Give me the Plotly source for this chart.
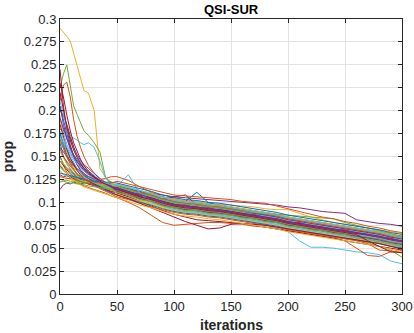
import plotly.graph_objects as go

# values of "prop" are stored in thousandths
SCALE = 1000.0

iterations = [0, 3, 6, 9, 12, 15, 18, 21, 25, 30, 35, 40, 45, 50, 60, 70, 80, 90, 100, 110,
              120, 130, 140, 150, 160, 170, 180, 190, 200, 210, 220, 230, 240, 250, 260, 270, 280, 290, 300]

run01 = [165,150,142,136,131,128,126,124,122,121,119,118,116, 117,113,110,106,101,99,97,96,94,93,91,89,87,86,83,80,78,76,74,72,70,68,66,64,61,59]
run02 = [210,228,231,215,190,172,160,150,140,132,126,122,119, 116,113,108,105,101,98,96,95,93,92,90,88,86,84,82,79,77,75,73,71,69,67,65,63,60,58]
run03 = [290,286,281,276,262,248,235,222,219,200,137,127,122, 118,114,110,107,103,100,98,97,95,94,92,90,88,86,84,81,79,77,75,73,71,69,67,65,62,60]
run04 = [114,119,121,120,122,121,120,121,120,119,118,118,117, 116,114,112,110,108,106,105,104,103,102,101,100,99,98,97,95,94,92,90,89,88,81,79,77,76,74]
run05 = [225,240,250,225,205,196,186,178,173,165,155,127,121, 117,112,108,104,100,96,94,93,91,90,88,86,84,82,80,77,75,73,70,68,66,63,61,58,55,50]
run06 = [190,175,163,155,147,141,136,132,127,123,120,117,114, 112,109,105,101,97,94,92,90,88,86,84,81,78,75,72,68,58,51,51,50,48,46,45,43,36,33]
run07 = [245,205,180,163,150,141,135,130,126,122,120,118,116, 114,110,106,103,100,97,96,94,92,90,89,87,85,83,81,78,76,74,72,70,68,66,64,61,59,56]
run08 = [205,190,172,160,152,146,141,137,133,128,124,121,119, 119,116,111,108,104,101,99,98,97,95,93,92,89,87,85,82,80,79,76,74,72,70,68,66,63,61]
run09 = [150,140,133,128,125,122,120,118,116,114,112,110,107, 105,100,94,86,78,75,76,77,78,78,77,76,74,73,71,69,67,65,63,61,58,50,42,41,46,47]
run10 = [135,130,127,125,124,123,122,121,120,119,118,117,115, 120,117,113,110,106,104,102,101,99,98,97,96,95,93,92,92,88,84,81,78,76,74,72,70,68,66]
run11 = [180,178,183,170,160,152,146,141,137,131,126,121,118, 113,109,105,102,98,95,93,92,90,89,87,85,83,81,79,76,74,72,70,68,66,64,62,60,57,55]
run12 = [125,124,124,123,123,122,122,121,121,120,119,118,116, 112,108,104,101,97,94,92,91,89,88,86,84,82,80,78,75,73,71,69,66,64,62,59,56,53,51]
run13 = [160,150,145,140,135,131,128,126,124,122,120,118,115, 111,107,103,100,96,93,91,90,88,87,85,83,81,79,77,74,72,70,68,66,64,62,60,58,55,53]
run14 = [200,195,185,172,160,150,143,137,132,127,123,120,117, 118,114,110,107,103,106,108,97,95,94,92,90,88,86,84,81,79,77,75,73,71,69,67,65,62,60]
run15 = [140,135,131,128,126,124,123,122,121,119,118,116,114, 114,111,107,104,101,99,101,111,100,96,94,91,88,86,83,80,78,76,74,72,70,68,66,64,61,59]
run16 = [175,165,155,148,142,137,133,130,128,126,125,126,128, 128,124,117,111,106,102,100,99,97,96,94,92,90,88,86,83,81,79,77,75,73,71,69,67,64,62]
run17 = [155,148,142,137,132,128,125,123,121,119,117,115,113, 110,106,102,99,95,92,90,89,87,86,84,82,80,78,76,73,71,69,67,65,63,61,59,57,54,52]
run18 = [130,128,129,127,126,125,124,123,122,121,119,117,115, 114,111,108,105,102,99,97,96,94,93,91,89,87,85,83,80,78,76,74,72,70,68,66,64,61,59]
run19 = [170,160,150,143,138,134,130,128,126,124,122,121,119, 116,112,108,104,100,96,94,92,90,89,87,85,83,81,79,76,74,71,69,66,63,59,56,52,48,40]
run20 = [185,180,176,172,170,168,165,163,165,160,145,126,120, 116,112,108,104,100,97,95,94,92,90,88,86,84,82,80,77,75,73,71,69,67,65,63,61,58,56]
run21 = [145,140,135,131,128,126,124,122,120,118,116,114,112, 110,106,101,96,91,87,84,81,80,79,78,77,75,73,71,69,67,65,63,61,58,56,54,52,50,48]
run22 = [175,162,152,145,140,136,132,129,126,123,121,119,117, 118,115,112,109,106,103,101,100,98,97,95,93,91,89,87,84,82,80,78,76,74,72,70,68,65,63]
run23 = [128,127,126,126,125,124,123,122,121,120,119,118,117, 117,114,111,108,104,101,99,98,96,95,93,91,89,87,85,82,80,78,76,74,72,70,68,66,63,61]
run24 = [195,170,155,146,139,134,130,127,124,121,119,117,115, 109,105,101,98,94,91,89,88,86,85,83,81,79,77,75,72,70,68,66,64,62,60,58,56,53,51]
run25 = [160,155,150,145,140,137,134,131,128,125,122,120,117, 115,111,107,104,100,97,95,94,92,91,89,87,85,83,81,78,76,74,72,70,68,66,64,62,59,57]
run26 = [138,134,131,129,127,125,124,122,121,120,118,116,114, 113,109,105,102,98,95,93,92,90,89,87,85,83,81,79,76,74,72,70,68,66,64,62,60,57,55]
run27 = [210,195,180,168,158,150,144,139,134,129,125,121,118, 117,113,109,106,102,99,97,96,94,93,91,89,87,85,83,80,78,76,74,72,70,68,66,64,61,59]
run28 = [230,215,195,178,165,155,147,140,134,128,124,121,118, 116,112,108,105,101,98,96,95,93,92,90,88,86,84,82,79,77,75,73,71,69,67,65,63,60,58]
run29 = [150,142,137,133,130,127,125,123,121,119,116,113,110, 108,104,100,97,93,90,88,87,85,84,82,80,78,76,74,71,69,67,65,63,61,59,57,55,52,50]
run30 = [168,158,149,142,136,131,127,124,121,118,115,112,109, 106,103,99,95,92,89,87,86,84,83,81,79,77,75,73,70,68,66,64,62,60,58,55,48,47,45]
run31 = [148,142,137,133,129,126,124,123,122,121,120,119,118, 119,116,113,110,106,103,101,100,98,97,95,93,91,89,87,84,82,80,78,76,74,72,70,68,65,63]
run32 = [205,185,170,160,151,144,139,135,131,127,124,121,118, 112,108,104,101,97,94,92,91,89,88,86,84,82,80,78,75,73,71,69,67,65,63,61,59,56,54]
run33 = [145,141,138,135,132,129,127,125,123,121,119,118,117, 118,114,110,107,103,100,98,97,95,94,92,90,89,88,87,86,85,84,83,82,78,75,72,69,66,63]
run34 = [172,165,158,150,143,137,132,128,124,121,119,117,115, 118,130,110,100,96,92,90,89,87,86,84,82,80,78,76,73,71,69,67,65,63,61,59,57,54,52]
run35 = [185,170,158,148,141,135,130,126,123,120,117,114,111, 108,104,99,94,89,84,79,75,71,72,76,77,76,75,73,71,69,67,65,63,61,59,57,55,52,49]
run36 = [132,131,130,129,128,127,126,125,124,123,123,122,122, 121,118,115,112,108,105,103,102,100,99,97,95,93,91,89,86,84,82,80,78,76,74,72,70,67,65]
run37 = [158,150,144,139,135,131,128,126,124,122,121,120,121, 123,120,117,114,111,108,107,106,105,104,103,101,100,99,96,93,90,87,84,82,79,77,74,72,69,67]
run38 = [142,136,131,127,124,121,119,117,115,113,111,109,107, 105,101,97,94,90,87,85,84,82,81,79,77,75,73,71,68,66,64,62,60,58,56,54,52,49,46]
run39 = [192,180,168,158,150,144,139,134,130,126,123,120,117, 116,111,109,104,101,97,97,94,94,91,90,87,87,83,82,78,78,74,73,70,70,66,65,62,61,57]
run40 = [122,123,122,121,121,120,120,119,118,117,116,115,114, 111,108,103,101,96,94,91,91,88,87,86,83,82,79,78,74,73,70,69,66,65,61,60,57,55,52]
run41 = [178,168,160,153,147,142,138,134,130,126,123,121,119, 120,116,113,109,106,102,100,99,97,96,94,92,90,88,86,83,81,79,77,75,73,71,69,67,64,61]
run42 = [220,200,182,168,157,149,142,137,132,127,123,120,117, 114,110,106,103,99,96,94,93,91,90,88,86,84,82,80,77,75,73,71,69,67,65,58,52,46,45]

runs = [run01, run02, run03, run04, run05, run06, run07, run08, run09, run10, run11, run12, run13, run14,
        run15, run16, run17, run18, run19, run20, run21, run22, run23, run24, run25, run26, run27, run28,
        run29, run30, run31, run32, run33, run34, run35, run36, run37, run38, run39, run40, run41, run42]

colors = ["#0072BD", "#D95319", "#EDB120", "#7E2F8E", "#77AC30", "#4DBEEE", "#A2142F"]

x_ticks = [0, 50, 100, 150, 200, 250, 300]
y_ticks = [0, 0.025, 0.05, 0.075, 0.1, 0.125, 0.15, 0.175, 0.2, 0.225, 0.25, 0.275, 0.3]
y_tick_labels = ["0", "0.025", "0.05", "0.075", "0.1", "0.125", "0.15", "0.175", "0.2", "0.225", "0.25", "0.275", "0.3"]

for r in runs:
    assert len(r) == len(iterations)

fig = go.Figure()
for i, r in enumerate(runs):
    fig.add_trace(go.Scatter(x=iterations, y=[v / SCALE for v in r], mode="lines",
                             line=dict(color=colors[i % 7], width=1),
                             showlegend=False, hoverinfo="skip"))

axis_common = dict(showline=True, linecolor="#262626", linewidth=1, mirror="ticks",
                   ticks="inside", ticklen=4, tickcolor="#262626", automargin=False,
                   showgrid=True, gridcolor="#e3e3e3", gridwidth=1, zeroline=False,
                   tickfont=dict(family="Liberation Sans, Arial", size=13, color="#262626"))

fig.update_xaxes(range=[0, 300], tickvals=x_ticks, **axis_common)
fig.update_yaxes(range=[0, 0.3], tickvals=y_ticks, ticktext=y_tick_labels, **axis_common)

fig.update_layout(
    width=414, height=333,
    margin=dict(l=60, r=12, t=19, b=39),
    paper_bgcolor="white", plot_bgcolor="white",
    font=dict(family="Liberation Sans, Arial", color="#262626"),
    annotations=[
        dict(text="<b>QSI-SUR</b>", x=0.5, y=1.035, xref="paper", yref="paper",
             showarrow=False, xanchor="center", yanchor="middle",
             font=dict(size=13, color="#000000")),
        dict(text="<b>iterations</b>", x=0.5, y=-0.113, xref="paper", yref="paper",
             showarrow=False, xanchor="center", yanchor="middle",
             font=dict(size=14, color="#262626")),
        dict(text="<b>prop</b>", x=-0.153, y=0.5, xref="paper", yref="paper",
             showarrow=False, xanchor="center", yanchor="middle", textangle=-90,
             font=dict(size=14, color="#262626")),
    ],
)

fig.write_html("out.html", config={"displayModeBar": False, "staticPlot": True},
               post_script="document.body.style.margin='0';document.body.style.overflow='hidden';")
